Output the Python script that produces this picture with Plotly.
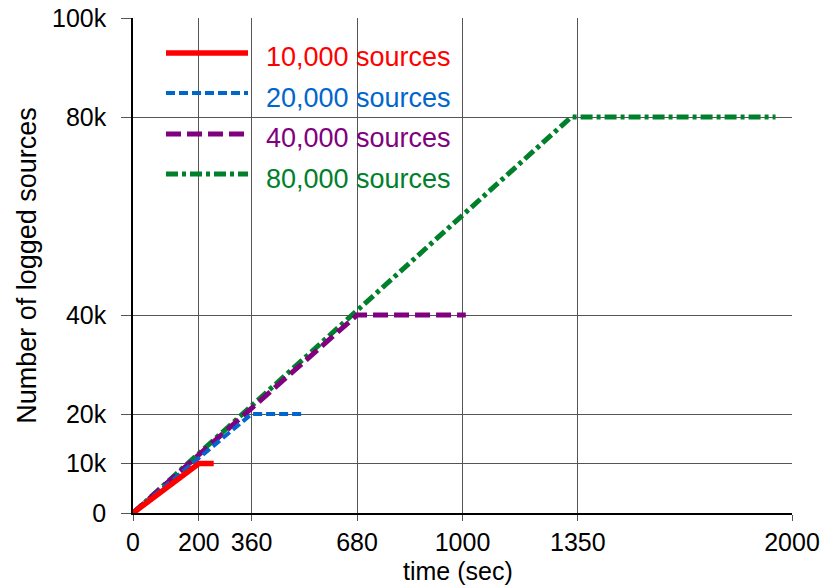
import plotly.graph_objects as go

# ---- data ----
series_names = ["10,000 sources", "20,000 sources", "40,000 sources", "80,000 sources"]
times_10k = [0, 200, 245]
vals_10k = [0, 10000, 10000]
times_20k = [0, 360, 520]
vals_20k = [0, 20000, 20000]
times_40k = [0, 680, 1010]
vals_40k = [0, 40000, 40000]
times_80k = [0, 1330, 1950]
vals_80k = [0, 80000, 80000]

x_ticks = [0, 200, 360, 680, 1000, 1350, 2000]
y_ticks = [0, 10000, 20000, 40000, 80000, 100000]
y_tick_labels = ["0", "10k", "20k", "40k", "80k", "100k"]

colors = ["#ff0000", "#0066cc", "#800080", "#00802b"]
dashes = ["solid", "9px,4px", "15px,6px", "12px,4px,4px,4px"]
widths = [5.5, 4, 5, 5]

xs = [times_10k, times_20k, times_40k, times_80k]
ys = [vals_10k, vals_20k, vals_40k, vals_80k]

FONT = "Liberation Sans, Arial"

fig = go.Figure()
# draw in reverse order so red is on top
for i in [3, 2, 1, 0]:
    fig.add_trace(go.Scatter(
        x=xs[i], y=ys[i], mode="lines", name=series_names[i],
        line=dict(color=colors[i], width=widths[i], dash=dashes[i]),
        showlegend=False,
    ))

# manual legend
L, R, T, B = 133, 792, 18, 513
W, H = R - L, B - T
def px(x):
    return (x - L) / W
def py(y):
    return (B - y) / H

leg_line_y = [53, 93, 134, 174]
leg_text_y = [57, 98, 138, 179]
shapes = []
annotations = []
for i in range(4):
    shapes.append(dict(type="line", xref="paper", yref="paper",
                       x0=px(166), x1=px(248), y0=py(leg_line_y[i]), y1=py(leg_line_y[i]),
                       line=dict(color=colors[i], width=widths[i], dash=dashes[i])))
    annotations.append(dict(xref="paper", yref="paper", x=px(264), y=py(leg_text_y[i]),
                            xanchor="left", yanchor="middle", showarrow=False,
                            text=series_names[i],
                            font=dict(size=27, color=colors[i], family=FONT)))

annotations.append(dict(xref="paper", yref="paper", x=px(458), y=py(571),
                        xanchor="center", yanchor="middle", showarrow=False,
                        text="time (sec)", font=dict(size=25, color="black", family=FONT)))

fig.update_layout(
    width=825, height=586,
    margin=dict(l=L, r=825 - R, t=T, b=586 - B),
    plot_bgcolor="white", paper_bgcolor="white",
    font=dict(family=FONT, size=25, color="black"),
    shapes=shapes, annotations=annotations,
)
fig.update_xaxes(
    range=[0, 2000], tickmode="array", tickvals=x_ticks,
    ticks="outside", ticklen=6, tickcolor="#555", tickwidth=1,
    showgrid=True, gridcolor="#555", gridwidth=1,
    showline=True, linecolor="black", linewidth=1.5, mirror=False,
    zeroline=False, tickfont=dict(size=25), ticklabelstandoff=0,
    automargin=False,
)
fig.update_yaxes(
    range=[0, 100000], tickmode="array", tickvals=y_ticks, ticktext=y_tick_labels,
    ticks="outside", ticklen=10, tickcolor="#555", tickwidth=1,
    showgrid=True, gridcolor="#555", gridwidth=1,
    showline=True, linecolor="black", linewidth=1.5,
    zeroline=False, tickfont=dict(size=25), ticklabelstandoff=10,
    title=dict(text="Number of logged sources", font=dict(size=27), standoff=8),
    automargin=False,
)
fig.write_html("out.html")
